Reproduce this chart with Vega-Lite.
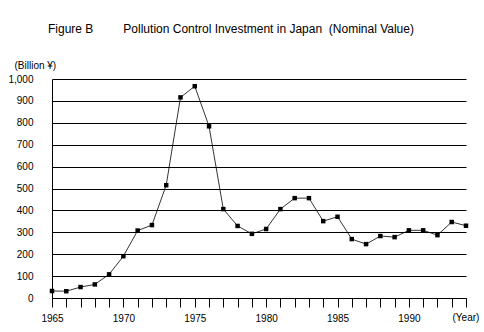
{
  "$schema": "https://vega.github.io/schema/vega-lite/v6.json",
  "autosize": "none",
  "width": 414,
  "height": 219,
  "padding": {"left": 52, "top": 79, "right": 18, "bottom": 34},
  "background": "white",
  "title": {
    "text": "Figure B\u00a0\u00a0\u00a0\u00a0\u00a0\u00a0\u00a0\u00a0\u00a0Pollution Control Investment in Japan\u00a0\u00a0(Nominal Value)",
    "anchor": "start",
    "frame": "group",
    "dx": -4,
    "offset": 24,
    "font": "Liberation Sans",
    "fontSize": 12,
    "fontWeight": "normal",
    "color": "black"
  },
  "data": {
    "values": [
      {"year": 1965, "value": 32},
      {"year": 1966, "value": 31},
      {"year": 1967, "value": 50},
      {"year": 1968, "value": 62},
      {"year": 1969, "value": 108},
      {"year": 1970, "value": 191},
      {"year": 1971, "value": 308},
      {"year": 1972, "value": 333},
      {"year": 1973, "value": 515},
      {"year": 1974, "value": 916},
      {"year": 1975, "value": 967},
      {"year": 1976, "value": 784},
      {"year": 1977, "value": 406},
      {"year": 1978, "value": 329},
      {"year": 1979, "value": 293},
      {"year": 1980, "value": 315},
      {"year": 1981, "value": 406},
      {"year": 1982, "value": 456},
      {"year": 1983, "value": 456},
      {"year": 1984, "value": 351},
      {"year": 1985, "value": 371},
      {"year": 1986, "value": 269},
      {"year": 1987, "value": 246},
      {"year": 1988, "value": 283},
      {"year": 1989, "value": 278},
      {"year": 1990, "value": 309},
      {"year": 1991, "value": 309},
      {"year": 1992, "value": 287},
      {"year": 1993, "value": 347},
      {"year": 1994, "value": 330}
    ]
  },
  "encoding": {
    "x": {
      "field": "year",
      "type": "quantitative",
      "scale": {"domain": [1965, 1994], "nice": false, "zero": false},
      "axis": {
        "title": "(Year)",
        "titleAngle": 0,
        "titleX": 400,
        "titleY": 19,
        "titleAlign": "left",
        "titleBaseline": "middle",
        "titleFont": "Liberation Sans",
        "titleFontSize": 10,
        "titleFontWeight": "normal",
        "titleColor": "black",
        "values": [1965,1966,1967,1968,1969,1970,1971,1972,1973,1974,1975,1976,1977,1978,1979,1980,1981,1982,1983,1984,1985,1986,1987,1988,1989,1990,1991,1992,1993,1994],
        "labelExpr": "datum.value % 5 === 0 && datum.value < 1994 ? datum.value : ''",
        "labelFont": "Liberation Sans",
        "labelFontSize": 10,
        "labelColor": "black",
        "labelPadding": 11,
        "labelBaseline": "middle",
        "labelOverlap": false,
        "labelFlush": false,
        "grid": false,
        "domainColor": "black",
        "domainWidth": 1,
        "ticks": true,
        "tickColor": "black",
        "tickOpacity": 1,
        "tickWidth": 1,
        "tickSize": 9,
        "encoding": {
          "ticks": {
            "update": {
              "y": {"value": 0},
              "y2": {"signal": "datum.value % 5 === 0 && datum.value < 1994 ? -9 : -3"}
            }
          }
        }
      }
    },
    "y": {
      "field": "value",
      "type": "quantitative",
      "scale": {"domain": [0, 1000], "nice": false},
      "axis": {
        "title": "(Billion ¥)",
        "titleAngle": 0,
        "titleX": -38,
        "titleY": -14,
        "titleAlign": "left",
        "titleBaseline": "middle",
        "titleFont": "Liberation Sans",
        "titleFontSize": 10,
        "titleFontWeight": "normal",
        "titleColor": "black",
        "values": [0,100,200,300,400,500,600,700,800,900,1000],
        "format": ",d",
        "labelFont": "Liberation Sans",
        "labelFontSize": 10,
        "labelColor": "black",
        "labelPadding": 19,
        "ticks": false,
        "domainColor": "black",
        "grid": true,
        "gridColor": "black",
        "gridOpacity": 1,
        "gridWidth": 1
      }
    }
  },
  "layer": [
    {"mark": {"type": "line", "color": "black", "strokeWidth": 0.8}},
    {"mark": {"type": "square", "color": "black", "filled": true, "opacity": 1, "size": 20}}
  ],
  "config": {"view": {"stroke": null}}
}
